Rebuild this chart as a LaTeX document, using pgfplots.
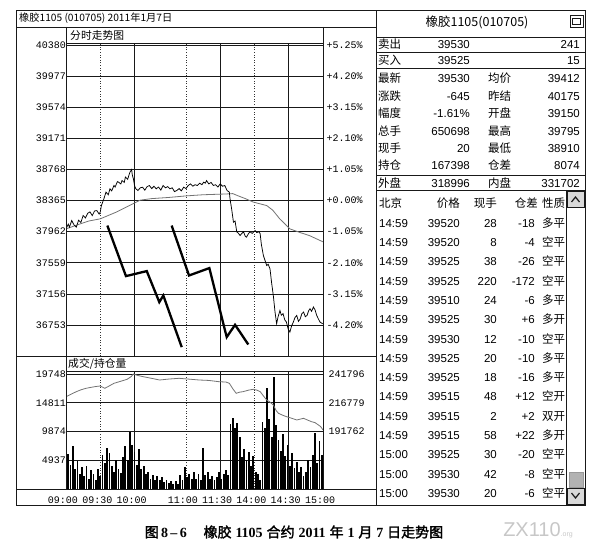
\documentclass[border=0pt]{standalone}
\usepackage{fontspec}
\usepackage{pgfplots}
\pgfplotsset{compat=1.18}
\setmainfont{Liberation Sans}
\newfontfamily\mono{Liberation Mono}
\newfontfamily\cjk{Noto Sans CJK SC}
\newfontfamily\cjkb{Noto Sans CJK SC}[FakeBold=2]
\newfontfamily\tnr{Liberation Serif}
\newcommand\fs[1]{\fontsize{#1bp}{#1bp}\selectfont}
\newcommand\cb[1]{{\cjkb #1}}
\newcommand\nb[1]{{\tnr\bfseries #1}}

% one row of the quote block: y, label, value, label, value
\newcommand\trow[5]{%
  \node[anchor=base west,inner sep=0pt,font={\cjk\fs{11.5}}] at (378,#1+4.2) {#2};
  \node[anchor=base east,inner sep=0pt,font=\fs{11.5}] at (470,#1+4.2) {#3};
  \node[anchor=base west,inner sep=0pt,font={\cjk\fs{11.5}}] at (488,#1+4.2) {#4};
  \node[anchor=base east,inner sep=0pt,font=\fs{11.5}] at (580,#1+4.2) {#5};}

\pgfplotsset{
  panel/.style={scale only axis, width=257bp, xmin=0, xmax=225, anchor=south west,
    axis line style={line width=0.7bp, black!90},
    major tick length=0pt, minor tick length=0pt, tick style={draw=none},
    xtick={0,60,135,195,225}, minor xtick={30,105,165},
    xmajorgrids, xminorgrids, ymajorgrids,
    major grid style={line width=0.6bp, black!90},
    minor grid style={line width=0.6bp, black!80, dotted},
    scaled ticks=false, xticklabels={},
    tick label style={font={\mono\fs{10}}}},
  side/.style={axis y line*=right, axis x line=none,
    xmajorgrids=false, xminorgrids=false, ymajorgrids=false,
    yticklabel style={anchor=west, inner sep=0pt, xshift=3.5bp}}
}

\begin{document}
\begin{tikzpicture}[x=1bp,y=-1bp]
\useasboundingbox (0,0) rectangle (603,551);
\coordinate (psw) at (66,356);
\coordinate (vsw) at (66,489);

% price panel
\begin{axis}[panel, at={(psw)}, height=313bp, ymin=36351, ymax=40406,
  ytick={36753,37156,37559,37962,38365,38768,39171,39574,39977,40380},
  yticklabels={36753,37156,37559,37962,38365,38768,39171,39574,39977,40380},
  yticklabel style={anchor=east, inner sep=0pt}]
% average price
\addplot[black!55, line width=0.8bp] coordinates {
(0,37998) (10,38050) (20,38100) (30,38128) (44,38215) (50,38260) (58.5,38322)
(65,38370) (75,38390) (90,38405) (105,38425) (120,38440) (140,38450) (146,38455)
(150,38430) (157,38390) (164,38345) (175.7,38300) (181,38240) (187,38130)
(196,37998) (205,37950) (213,37912) (225,37830)};
% last price
\addplot[black, line width=0.75bp] coordinates {
(0,37998) (2,38060) (3,38020) (5,38106) (7,38050) (9,38020) (11,38110) (13,38080)
(15,38171) (17,38140) (19,38200) (21,38218) (23,38170) (25,38230) (27,38235)
(29,38190) (30,38218) (31,38300) (33,38380) (35,38474) (37,38440) (38.5,38517)
(40,38490) (42,38560) (43,38540) (45,38610) (46,38603) (48,38580) (49,38624)
(51,38600) (52,38668) (54,38640) (55,38689) (56,38733) (57.5,38767) (58,38700)
(59,38646) (60,38560) (61,38520) (63,38495) (65,38530) (67,38538) (69,38500)
(71,38545) (73,38560) (75,38520) (77,38550) (79,38517) (81,38540) (83,38500)
(85,38560) (87,38530) (89,38545) (91,38517) (93,38530) (95,38480) (97,38495)
(99,38520) (101,38490) (103,38538) (105,38520) (107,38560) (109,38581) (111,38550)
(113,38570) (115,38560) (117,38590) (119,38570) (120.5,38603) (122,38590)
(123,38624) (125,38580) (127,38600) (129,38560) (131,38570) (133,38540)
(135,38581) (137,38550) (139,38560) (141,38495) (143,38474) (143.6,38387)
(145,38257) (146.6,38085) (148,38100) (149.5,37960) (151,37940) (152.4,37912)
(154,37940) (155.4,37960) (157,37900) (158,37890) (159.5,37930) (161,37960)
(163,37940) (165.5,37977) (167,37950) (169,37960) (170,37934) (171,37800)
(172.8,37653) (174,37600) (175.7,37523) (177,37540) (178.6,37480) (180,37300)
(181.5,37135) (183,36920) (184.4,36769) (185.5,36850) (187.3,36940) (188.5,36880)
(190,36900) (191.5,36820) (193,36790) (194.5,36700) (196,36661) (197.5,36740)
(199,36790) (200.5,36850) (202,36876) (203.5,36800) (205,36830) (206.5,36900)
(208,36920) (209.5,36860) (211,36876) (212.5,36940) (213.6,36963) (215,36930)
(216.6,36985) (218,36950) (219.5,36876) (221,36830) (222.4,36790) (224.7,36769)};
% the two drawn zigzag marks
\addplot[black, line width=2.3bp, line join=miter] coordinates {
(36.2,38041) (52.5,37386) (70.7,37451) (81.7,37049) (85.2,37135) (101.3,36466)};
\addplot[black, line width=2.3bp, line join=miter] coordinates {
(92.5,38041) (107.7,37394) (125.5,37490) (140.7,36596) (148,36755) (159.6,36500)};
\end{axis}

\begin{axis}[panel, side, at={(psw)}, height=313bp, ymin=36351, ymax=40406,
  ytick={36753,37156,37559,37962,38365,38768,39171,39574,39977,40380},
  yticklabels={-4.20\%,-3.15\%,-2.10\%,-1.05\%,+0.00\%,+1.05\%,+2.10\%,+3.15\%,+4.20\%,+5.25\%}]
\addplot[draw=none] coordinates {(0,38365)};
\end{axis}

% volume panel
\begin{axis}[panel, at={(vsw)}, height=118bp, ymin=0, ymax=20263,
  ytick={4937,9874,14811,19748}, yticklabels={4937,9874,14811,19748},
  yticklabel style={anchor=east, inner sep=0pt},
  xticklabels={09:00,10:00,11:30,14:30,15:00},
  extra x ticks={30,105,165}, extra x tick labels={09:30,11:00,14:00},
  extra x tick style={grid=none},
  xticklabel style={anchor=center, inner sep=0pt, yshift=-11bp, xshift=-3bp}]
\addplot[ycomb, black, line width=1.8bp] coordinates {
(0,11500) (2,6000) (4,4200) (6,7400) (8,3500) (10,4800) (12,2500) (14,3800)
(16,2200) (18,4000) (20,1800) (22,3200) (24,2600) (26,1500) (28,3500) (30,2200)
(32,5800) (34,4500) (36,7000) (38,6200) (40,4000) (42,3000) (44,5000) (46,3400)
(48,2800) (50,5500) (52,7400) (54,5000) (56,9800) (58,7600) (60,6400) (62,4200)
(64,6800) (66,3500) (68,4000) (70,2600) (72,3000) (74,1800) (76,2400) (78,1500)
(80,2200) (82,1600) (84,2000) (86,1200) (88,1500) (90,1000) (92,1400) (94,900)
(96,1300) (98,800) (100,2400) (102,1600) (104,3800) (106,2000) (108,2600)
(110,1700) (112,3000) (114,1800) (116,2500) (118,1500) (120,7000) (122,2400)
(124,3000) (126,1700) (128,2200) (130,1500) (132,2000) (134,2900) (136,1800)
(138,2600) (140,3200) (142,2400) (144,11200) (146,12200) (148,10400) (150,11400)
(152,9000) (154,5500) (156,6800) (158,5000) (160,6300) (162,4000) (164,5600)
(166,3000) (168,2500) (170,1600) (172,11500) (174,10500) (176,17300) (178,12000)
(180,9000) (182,19300) (184,11000) (186,8500) (188,6500) (190,9400) (192,5600)
(194,7500) (196,4000) (198,6200) (200,3600) (202,4700) (204,3000) (206,3800)
(208,2300) (210,3000) (212,5000) (214,3800) (216,5800) (218,9700) (220,4500)
(222,8300) (224,5800)};
\end{axis}

\begin{axis}[panel, side, at={(vsw)}, height=118bp, ymin=141728, ymax=244406,
  ytick={191762,216779,241796}, yticklabels={191762,216779,241796},
  yticklabel style={xshift=2bp}]
% open interest
\addplot[black!55, line width=0.8bp] coordinates {
(0,222047) (4,224000) (9,226400) (13,228000) (17.5,229350) (22,230200) (26,230900)
(30,231356) (34,229350) (38,231500) (42,233700) (48,235500) (53.5,237180)
(57,239500) (59,241796) (63,240500) (67.5,239477) (75,238000) (82,236576)
(90,237400) (99,238055) (108,237300) (116.7,236576) (125,236200) (134,235097)
(140,234800) (143,233700) (146,229000) (149,224996) (152,226000) (155,226430)
(160,227800) (164,228500) (167,227800) (170,226430) (173,222500) (175.7,219176)
(178,217800) (181.5,214826) (184,210000) (186,207578) (190,205800) (193,204678)
(197,203500) (202,201776) (205,202500) (208,203226) (212,201500) (215,200277)
(218,199500) (221,197426) (223,196000) (225,193076)};
\end{axis}

% frames
\begin{scope}[line width=0.8bp, draw=black!90]
\draw (16,10) rectangle (376,505);
\draw (16,27) -- (376,27);
\draw (16,356.5) -- (376,356.5);
\draw (16,489) -- (376,489);
\draw (66,27) -- (66,489);
\draw (323,27) -- (323,489);
\draw (376,10) rectangle (585,505);
\foreach \yy in {37,52,68,175,190} \draw (376,\yy) -- (585,\yy);
\draw (566,190) -- (566,505);
\draw[fill=black!15] (567,191) rectangle (584,207);
\draw[line width=1.2bp] (571.5,202) -- (575.5,197) -- (579.5,202);
\draw[fill=black!30, draw=black!40] (569,472) rectangle (583,487);
\draw[fill=black!15] (567,488) rectangle (584,504);
\draw[line width=1.2bp] (571.5,493) -- (575.5,498) -- (579.5,493);
\draw (570,15) rectangle (583,27);
\draw (572.5,18) rectangle (580.5,24.5);
\draw[line width=1.4bp] (572.5,18.5) -- (580.5,18.5);
\end{scope}

% panel titles
\node[anchor=west, inner sep=0pt, font={\cjk\fs{10.2}}] at (19,18.5) {橡胶1105 (010705) 2011年1月7日};
\node[anchor=west, inner sep=0pt, font={\cjk\fs{10.8}}] at (70,35) {分时走势图};
\node[anchor=west, inner sep=0pt, font={\cjk\fs{10.8}}] at (68,364) {成交/持仓量};

% quote block
\node[font={\cjk\fs{12.5}}] at (477,22.5) {橡胶1105(010705)};
\trow{44.5}{卖出}{39530}{}{241}
\trow{60}{买入}{39525}{}{15}
\trow{78}{最新}{39530}{均价}{39412}
\trow{96}{涨跌}{-645}{昨结}{40175}
\trow{113.5}{幅度}{-1.61\%}{开盘}{39150}
\trow{131}{总手}{650698}{最高}{39795}
\trow{148.5}{现手}{20}{最低}{38910}
\trow{165.5}{持仓}{167398}{仓差}{8074}
\trow{183}{外盘}{318996}{内盘}{331702}

% tick list
\begin{scope}[every node/.style={inner sep=0pt}]
\node[anchor=base west, font={\cjk\fs{11.5}}] at (379,207.2) {北京};
\node[anchor=base east, font={\cjk\fs{11.5}}] at (460,207.2) {价格};
\node[anchor=base east, font={\cjk\fs{11.5}}] at (497,207.2) {现手};
\node[anchor=base east, font={\cjk\fs{11.5}}] at (538,207.2) {仓差};
\node[anchor=base west, font={\cjk\fs{11.5}}] at (542,207.2) {性质};
\foreach \t/\p/\v/\d/\k [count=\i] in {
  14:59/39520/28/-18/多平, 14:59/39520/8/-4/空平, 14:59/39525/38/-26/空平,
  14:59/39525/220/-172/空平, 14:59/39510/24/-6/多平, 14:59/39525/30/+6/多开,
  14:59/39530/12/-10/空平, 14:59/39525/20/-10/多平, 14:59/39525/18/-16/多平,
  14:59/39515/48/+12/空开, 14:59/39515/2/+2/双开, 14:59/39515/58/+22/多开,
  15:00/39525/30/-20/空平, 15:00/39530/42/-8/空平, 15:00/39530/20/-6/空平}{
  \node[anchor=base west, font=\fs{11.5}] at (379,{223+(\i-1)*19.3+4.2}) {\t};
  \node[anchor=base east, font=\fs{11.5}] at (460,{223+(\i-1)*19.3+4.2}) {\p};
  \node[anchor=base east, font=\fs{11.5}] at (497,{223+(\i-1)*19.3+4.2}) {\v};
  \node[anchor=base east, font=\fs{11.5}] at (535,{223+(\i-1)*19.3+4.2}) {\d};
  \node[anchor=base west, font={\cjk\fs{11.5}}] at (542,{223+(\i-1)*19.3+4.2}) {\k};
}
\end{scope}

% caption and mark
\node[font=\fs{14}] at (294,532) {\cb{图}\,\nb{8\,–\,6}\hspace{1.2em}\cb{橡胶}~\nb{1105}~\cb{合约}~\nb{2011}~\cb{年}~\nb{1}~\cb{月}~\nb{7}~\cb{日走势图}};
\node[text=black!22, font=\fs{20}] at (538,530) {ZX110{\fs{7}.org}};
\end{tikzpicture}
\end{document}
